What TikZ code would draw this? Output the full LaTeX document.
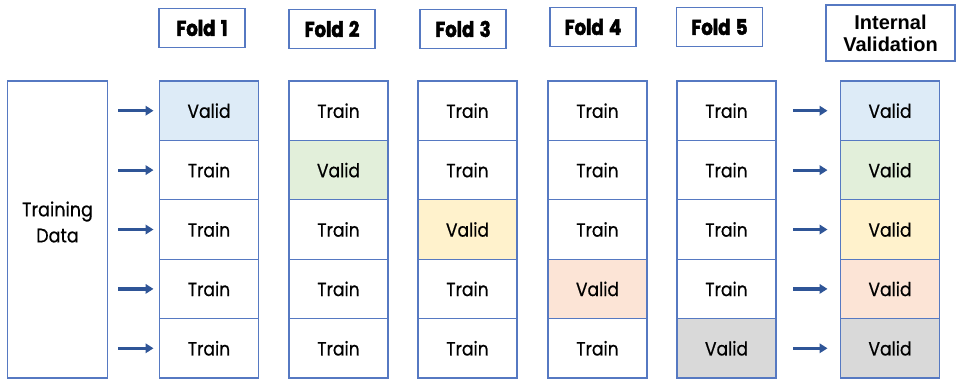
\documentclass[tikz,border=0pt]{standalone}
\usepackage{fontspec}
\setmainfont{Poppins}[FakeStretch=0.9, FakeBold=0.6]
\newfontfamily\headfont{Poppins}[FakeStretch=0.84, BoldFeatures={FakeBold=2.2}, WordSpace=1.4]
\newfontfamily\arialfont{Liberation Sans}
\usetikzlibrary{arrows.meta}
\definecolor{edge}{HTML}{5679C2}
\definecolor{arrowblue}{HTML}{2F5597}
\definecolor{fillblue}{HTML}{DDEBF7}
\definecolor{fillgreen}{HTML}{E2EFDA}
\definecolor{fillyellow}{HTML}{FFF2CC}
\definecolor{fillpeach}{HTML}{FCE4D6}
\definecolor{fillgrey}{HTML}{D9D9D9}
\tikzset{
  cell/.style={draw=edge, line width=1.1pt, minimum width=99pt, minimum height=59.4pt,
    inner sep=0pt, outer sep=0pt, font=\fontsize{19}{22}\selectfont},
  foldhead/.style={draw=edge, line width=1.1pt, minimum width=86pt, minimum height=39pt,
    inner sep=0pt, outer sep=0pt, font=\headfont\bfseries\fontsize{21.5}{22}\selectfont},
  flow/.style={draw=arrowblue, line width=3.2pt, -{Triangle[length=8pt,width=9.5pt]}}
}
\begin{document}
\begin{tikzpicture}[x=1pt, y=-1pt]
\useasboundingbox (0,0) rectangle (958,380);
% whole training set
\node[cell, minimum height=297pt, minimum width=99.5pt] (td) at (57.5,229.5) {};
\node[font=\fontsize{19.5}{26}\selectfont, align=center] (tdlabel) at (57.5,222) {Training\\Data};

% column headers
\node[foldhead] (h1) at (202,28) {Fold 1};
\node[foldhead] (h2) at (332,29) {Fold 2};
\node[foldhead] (h3) at (463,29) {Fold 3};
\node[foldhead] (h4) at (593,27) {Fold 4};
\node[foldhead] (h5) at (719.5,27) {Fold 5};
\node[foldhead, minimum width=129pt, minimum height=56pt, align=center,
      font=\arialfont\bfseries\fontsize{20}{22}\selectfont] (hv) at (890.5,33) {Internal\\Validation};

% fold columns: one validation block per fold
\foreach \c/\x in {1/209,2/338.5,3/467.5,4/597.5,5/726.5}{
  \foreach \r/\y in {1/110.7,2/170.1,3/229.5,4/288.9,5/348.3}{
    \ifnum\c=\r\relax
    \else
      \node[cell] (c\c\r) at (\x,\y) {Train};
    \fi
  }
}
\node[cell, fill=fillblue]   (c11) at (209,110.7)   {Valid};
\node[cell, fill=fillgreen]  (c22) at (338.5,170.1) {Valid};
\node[cell, fill=fillyellow] (c33) at (467.5,229.5) {Valid};
\node[cell, fill=fillpeach]  (c44) at (597.5,288.9) {Valid};
\node[cell, fill=fillgrey]   (c55) at (726.5,348.3) {Valid};

% internal validation column
\node[cell, fill=fillblue]   (v1) at (890,110.7) {Valid};
\node[cell, fill=fillgreen]  (v2) at (890,170.1) {Valid};
\node[cell, fill=fillyellow] (v3) at (890,229.5) {Valid};
\node[cell, fill=fillpeach]  (v4) at (890,288.9) {Valid};
\node[cell, fill=fillgrey]   (v5) at (890,348.3) {Valid};

% arrows into the first fold and out of the last fold
\foreach \r in {1,...,5}{
  \draw[flow] ([xshift=11pt]td.east |- c1\r.west) -- ([xshift=-6pt]c1\r.west);
  \draw[flow] ([xshift=17pt]c5\r.east) -- ([xshift=-13pt]v\r.west);
}
\end{tikzpicture}
\end{document}
